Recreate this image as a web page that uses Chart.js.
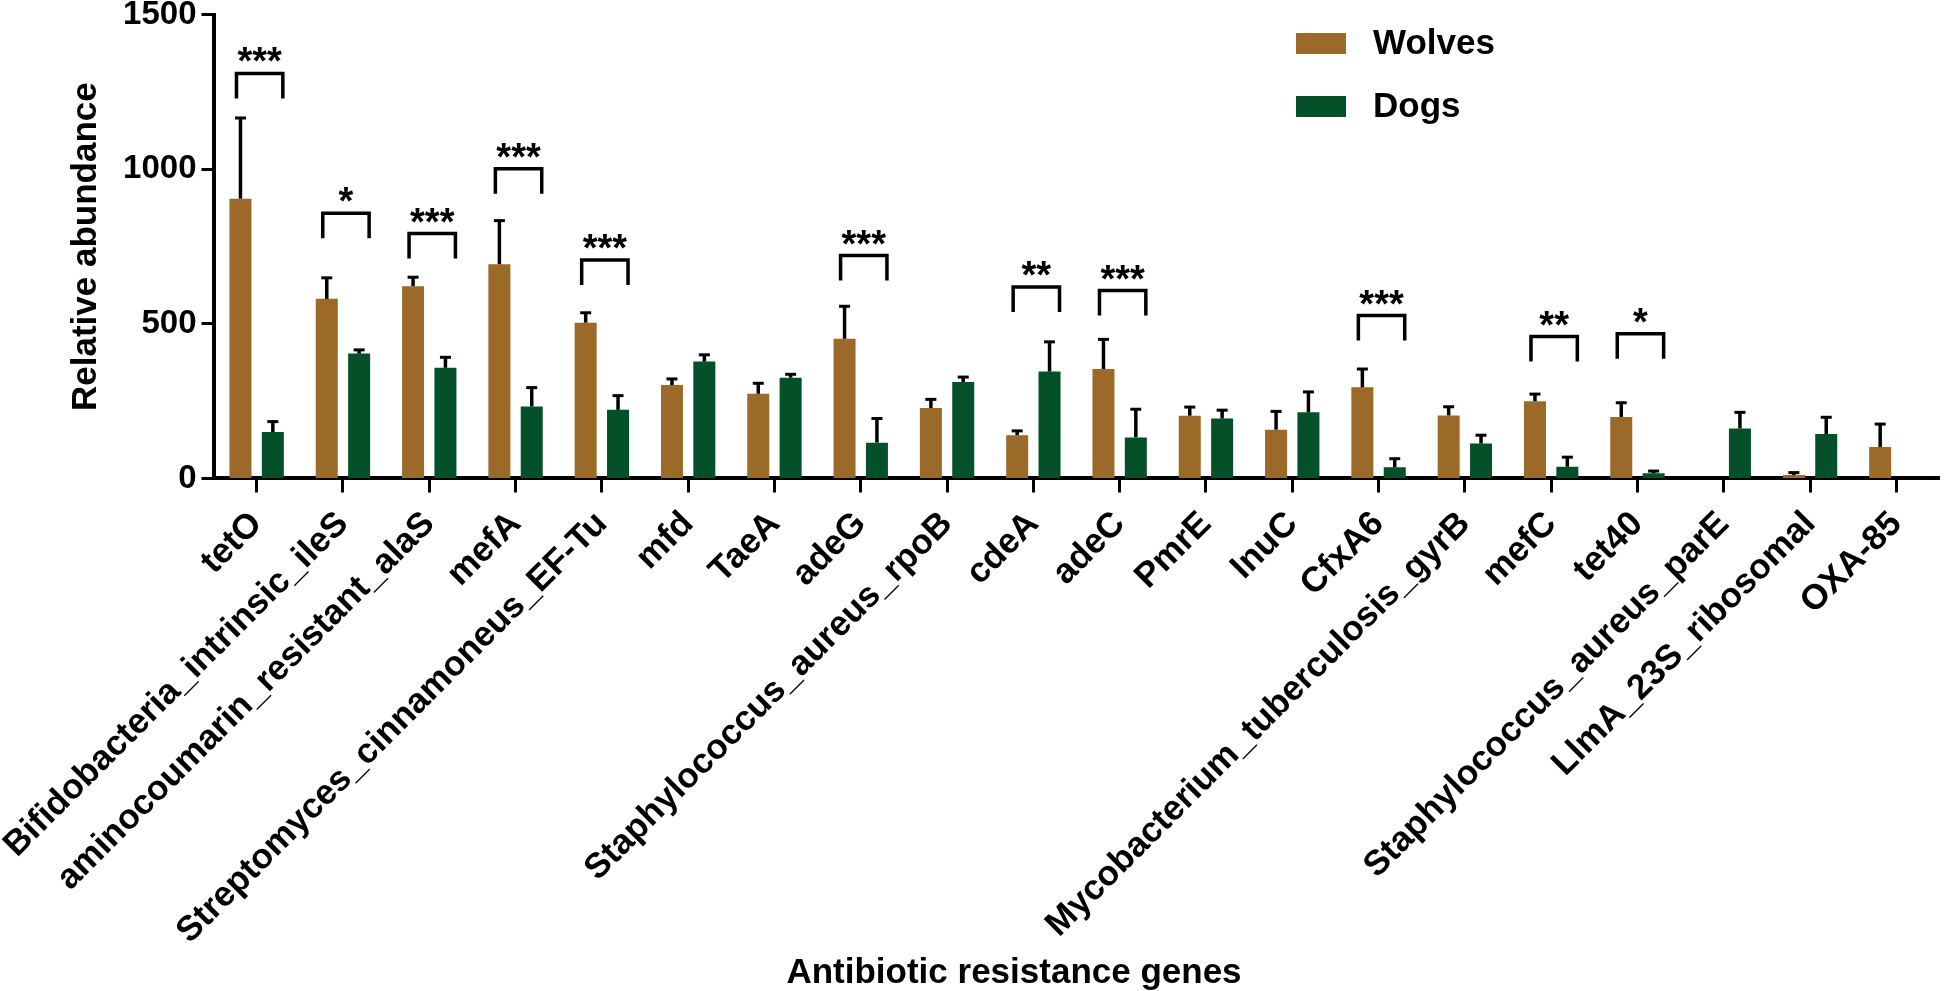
<!DOCTYPE html>
<html>
<head>
<meta charset="utf-8">
<script src="https://cdn.jsdelivr.net/npm/chart.js@4.4.1/dist/chart.umd.min.js"></script>
<style>
  body { margin: 0; background: #fff; }
  #wrap { width: 1946px; height: 991px; position: relative; }
</style>
</head>
<body>
<div id="wrap"><canvas id="barchart"></canvas></div>
<script>
// genes on the x axis
const genes = ['tetO', 'Bifidobacteria_intrinsic_ileS', 'aminocoumarin_resistant_alaS', 'mefA',
  'Streptomyces_cinnamoneus_EF-Tu', 'mfd', 'TaeA', 'adeG', 'Staphylococcus_aureus_rpoB', 'cdeA',
  'adeC', 'PmrE', 'InuC', 'CfxA6', 'Mycobacterium_tuberculosis_gyrB', 'mefC', 'tet40',
  'Staphylococcus_aureus_parE', 'LlmA_23S_ribosomal', 'OXA-85'];

// means and upper error
const wolves = [905, 581, 622, 693, 504, 302, 274, 452, 228, 140, 354, 203, 158, 295, 204, 250, 199, 2, 11, 102];
const wolvesErr = [261, 68, 29, 141, 32, 20, 34, 105, 28, 14, 96, 28, 59, 59, 28, 23, 46, 0, 8, 74];
const dogs = [150, 404, 358, 233, 222, 378, 326, 116, 312, 346, 133, 194, 214, 36, 113, 38, 17, 162, 144, 1];
const dogsErr = [34, 12, 34, 61, 46, 22, 11, 78, 16, 96, 91, 27, 66, 28, 27, 31, 7, 52, 54, 0];

// significance brackets
const sigText = ['***', '*', '***', '***', '***', '', '', '***', '', '**', '***', '', '', '***', '', '**', '*', '', '', ''];
const sigLevel = [1310, 858, 792, 1002, 707, null, null, 721, null, 619, 608, null, null, 527, null, 459, 468, null, null, null];

const yTicks = [0, 500, 1000, 1500];

const FONT = '"Liberation Sans", Arial, Helvetica, sans-serif';
const brown = '#9B6A28';
const green = '#045129';

const errs = [wolvesErr, dogsErr];

const extras = {
    id: 'extras',
    afterDatasetsDraw(chart) {
        const ctx = chart.ctx;
        const y = chart.scales.y;
        ctx.save();
        ctx.strokeStyle = '#000';
        ctx.lineCap = 'butt';
        // error bars (upper only)
        chart.data.datasets.forEach((ds, i) => {
            const meta = chart.getDatasetMeta(i);
            meta.data.forEach((bar, j) => {
                const e = errs[i][j];
                if (!e) return;
                const top = y.getPixelForValue(ds.data[j] + e);
                ctx.lineWidth = 3.5;
                ctx.beginPath();
                ctx.moveTo(bar.x, bar.y);
                ctx.lineTo(bar.x, top);
                ctx.stroke();
                ctx.lineWidth = 3;
                ctx.beginPath();
                ctx.moveTo(bar.x - 5.5, top);
                ctx.lineTo(bar.x + 5.5, top);
                ctx.stroke();
            });
        });
        // brackets + stars
        const m0 = chart.getDatasetMeta(0), m1 = chart.getDatasetMeta(1);
        ctx.lineWidth = 3.5;
        ctx.fillStyle = '#000';
        ctx.font = 'bold 38px ' + FONT;
        ctx.textAlign = 'center';
        ctx.textBaseline = 'alphabetic';
        sigLevel.forEach((lv, j) => {
            if (lv == null) return;
            const l = m0.data[j].x - 4;
            const r = m1.data[j].x + 10;
            const t = y.getPixelForValue(lv);
            ctx.beginPath();
            ctx.moveTo(l, t + 25);
            ctx.lineTo(l, t);
            ctx.lineTo(r, t);
            ctx.lineTo(r, t + 25);
            ctx.stroke();
            ctx.fillText(sigText[j], (l + r) / 2, t + 1);
        });
        ctx.restore();
    },
    afterDraw(chart) {
        const ctx = chart.ctx;
        ctx.save();
        // legend
        ctx.font = 'bold 35px ' + FONT;
        ctx.textBaseline = 'middle';
        ctx.textAlign = 'left';
        chart.data.datasets.forEach((ds, i) => {
            const cy = 43.5 + i * 63;
            ctx.fillStyle = ds.backgroundColor;
            ctx.fillRect(1296, cy - 10.5, 50, 21);
            ctx.fillStyle = '#000';
            ctx.fillText(ds.label, 1373, cy + 1);
        });
        // x axis title
        ctx.textAlign = 'center';
        ctx.textBaseline = 'alphabetic';
        ctx.fillText('Antibiotic resistance genes', 1014, 983);
        ctx.restore();
    }
};

const ctx1 = document.getElementById('barchart').getContext('2d');
const barchart = new Chart(ctx1, {
    type: 'bar',
    data: {
        labels: genes,
        datasets: [
            { label: 'Wolves', data: wolves, backgroundColor: brown },
            { label: 'Dogs', data: dogs, backgroundColor: green }
        ]
    },
    options: {
        responsive: true,
        maintainAspectRatio: false,
        animation: false,
        categoryPercentage: 0.75,
        barPercentage: 0.68,
        layout: { padding: { top: 14.7, right: 6.5, left: 0, bottom: 0 } },
        plugins: {
            legend: { display: false },
            tooltip: { enabled: false }
        },
        scales: {
            x: {
                grid: { drawOnChartArea: false, offset: false, tickLength: 14, tickWidth: 3, tickColor: '#000' },
                border: { display: true, color: '#000', width: 4 },
                ticks: {
                    color: '#000',
                    font: { family: FONT, size: 35, weight: 'bold' },
                    minRotation: 45, maxRotation: 45,
                    autoSkip: false,
                    padding: 11
                },
                afterFit(scale) {
                    scale.height = 512.5;
                    scale.paddingLeft = 0;
                    scale.paddingRight = 0;
                }
            },
            y: {
                min: 0, max: 1500,
                afterBuildTicks(scale) { scale.ticks = yTicks.map(v => ({ value: v })); },
                grid: { drawOnChartArea: false, tickLength: 12, tickWidth: 3, tickColor: '#000' },
                border: { display: true, color: '#000', width: 4 },
                ticks: {
                    color: '#000',
                    font: { family: FONT, size: 33, weight: 'bold' },
                    padding: 5,
                    callback: v => String(v)
                },
                title: {
                    display: true,
                    text: 'Relative abundance',
                    color: '#000',
                    font: { family: FONT, size: 35, weight: 'bold' },
                    padding: { top: 65, bottom: 0 }
                },
                afterFit(scale) {
                    scale.width = 213.5;
                    scale.paddingTop = 0;
                    scale.paddingBottom = 0;
                }
            }
        }
    },
    plugins: [extras]
});
</script>
</body>
</html>
